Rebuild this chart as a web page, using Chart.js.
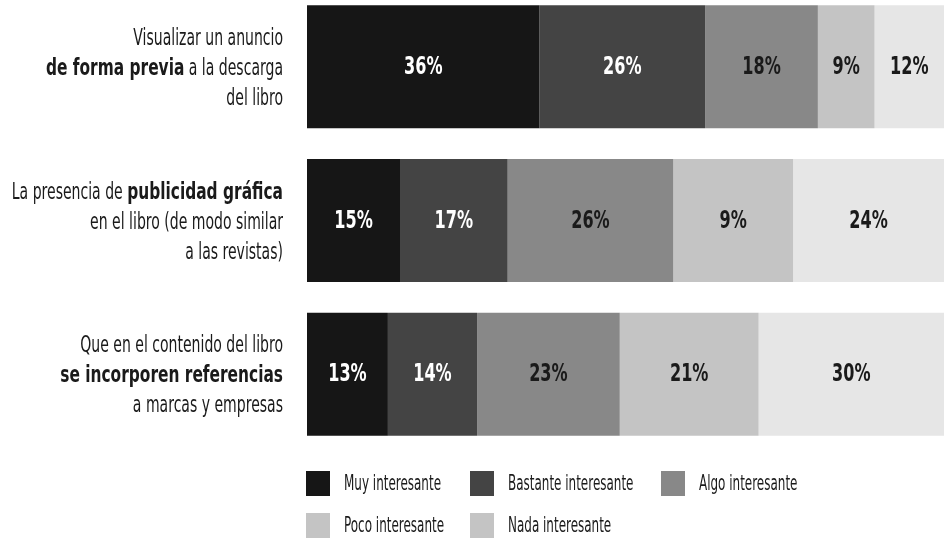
<!DOCTYPE html>
<html>
<head>
<meta charset="utf-8">
<script src="https://cdn.jsdelivr.net/npm/chart.js@4"></script>
<style>
  body { margin: 0; background: #fff; width: 944px; height: 539px; overflow: hidden; position: relative; }
  #wrap { position: absolute; left: 0; top: -10px; width: 944px; height: 549px; }
  #leyenda { position: absolute; left: 306px; top: 471px; }
  .item { position: absolute; white-space: nowrap; color: #1a1a1a;
          font-family: 'DejaVu Sans', sans-serif; font-size: 21px; }
  .caja { position: absolute; left: 0; top: 0; width: 24px; height: 25px; }
  .texto { position: absolute; left: 38px; top: 0; line-height: 25px;
           transform: scaleX(0.57); transform-origin: left center; }
</style>
</head>
<body>
<div id="wrap"><canvas id="grafico"></canvas></div>
<div id="leyenda"></div>
<script>
// categorias (las partes entre * van en negrita)
const categorias = [
  ["Visualizar un anuncio", "*de forma previa* a la descarga", "del libro"],
  ["La presencia de *publicidad gráfica*", "en el libro (de modo similar", "a las revistas)"],
  ["Que en el contenido del libro", "*se incorporen referencias*", "a marcas y empresas"]
];
const series = ["Muy interesante", "Bastante interesante", "Algo interesante", "Poco interesante", "Nada interesante"];

// anchos de cada tramo (%)
const muy      = [36.5, 14.6, 12.7];
const bastante = [26.0, 16.9, 14.0];
const algo     = [17.7, 26.0, 22.4];
const poco     = [8.9, 18.8, 21.8];
const nada     = [10.9, 23.7, 29.1];

// porcentajes impresos en las barras
const etiquetasMuy      = ["36%", "15%", "13%"];
const etiquetasBastante = ["26%", "17%", "14%"];
const etiquetasAlgo     = ["18%", "26%", "23%"];
const etiquetasPoco     = ["9%", "9%", "21%"];
const etiquetasNada     = ["12%", "24%", "30%"];

const colores = ["#161616", "#444444", "#888888", "#c4c4c4", "#e6e6e6"];
const coloresLeyenda = ["#161616", "#444444", "#888888", "#c4c4c4", "#c4c4c4"];
const coloresTexto = ["#ffffff", "#ffffff", "#1a1a1a", "#1a1a1a", "#1a1a1a"];
const FUENTE = "'DejaVu Sans', sans-serif";
// la fuente original es condensada: se estrecha a mano
const ESTRECHO_NORMAL = 0.61;
const ESTRECHO_NEGRITA = 0.67;

const valores = [muy, bastante, algo, poco, nada];
const etiquetas = [etiquetasMuy, etiquetasBastante, etiquetasAlgo, etiquetasPoco, etiquetasNada];

// textos dentro de las barras
const porcentajes = {
  id: "porcentajes",
  afterDatasetsDraw(chart) {
    const ctx = chart.ctx;
    ctx.font = "bold 24px " + FUENTE;
    ctx.textAlign = "center";
    ctx.textBaseline = "middle";
    chart.data.datasets.forEach((ds, i) => {
      chart.getDatasetMeta(i).data.forEach((bar, j) => {
        const p = bar.getProps(["x", "y", "base"], true);
        ctx.save();
        ctx.fillStyle = coloresTexto[i];
        ctx.translate((p.x + p.base) / 2, p.y + 1);
        ctx.scale(ESTRECHO_NEGRITA, 1);
        ctx.fillText(etiquetas[i][j], 0, 0);
        ctx.restore();
      });
    });
  }
};

// etiquetas de la izquierda con partes en negrita
const rotulos = {
  id: "rotulos",
  afterDraw(chart) {
    const ctx = chart.ctx;
    const y = chart.scales.y;
    ctx.save();
    ctx.fillStyle = "#1a1a1a";
    ctx.textBaseline = "alphabetic";
    ctx.textAlign = "left";
    categorias.forEach((lineas, j) => {
      const cy = y.getPixelForValue(j);
      lineas.forEach((linea, k) => {
        const trozos = linea.split("*").map((t, n) => ({
          t: t,
          font: (n % 2 ? "bold " : "") + "23px " + FUENTE,
          k: n % 2 ? ESTRECHO_NEGRITA : ESTRECHO_NORMAL
        }));
        let ancho = 0;
        trozos.forEach(tr => {
          ctx.font = tr.font;
          tr.w = ctx.measureText(tr.t).width * tr.k;
          ancho += tr.w;
        });
        const base = cy + 8 + (k - 1) * 30;
        let x = 283 - ancho;
        trozos.forEach(tr => {
          ctx.save();
          ctx.font = tr.font;
          ctx.translate(x, base);
          ctx.scale(tr.k, 1);
          ctx.fillText(tr.t, 0, 0);
          ctx.restore();
          x += tr.w;
        });
      });
    });
    ctx.restore();
  }
};

const chart = new Chart(document.getElementById("grafico"), {
  type: "bar",
  data: {
    labels: categorias.map(c => c.join(" ").replace(/\*/g, "")),
    datasets: series.map((s, i) => ({
      label: s,
      data: valores[i],
      backgroundColor: colores[i],
      borderWidth: 0,
      categoryPercentage: 1,
      barPercentage: 0.8
    }))
  },
  options: {
    indexAxis: "y",
    responsive: true,
    maintainAspectRatio: false,
    animation: false,
    layout: { padding: { left: 307, right: 0, top: 0, bottom: 88 } },
    scales: {
      x: { stacked: true, min: 0, max: 100, display: false },
      y: { stacked: true, display: false }
    },
    plugins: {
      legend: { display: false },
      tooltip: { enabled: false }
    }
  },
  plugins: [porcentajes, rotulos]
});

// leyenda en rejilla de tres columnas
const columnas = [0, 164, 355];
const leyenda = document.getElementById("leyenda");
series.forEach((s, i) => {
  const d = document.createElement("div");
  d.className = "item";
  d.style.left = columnas[i % 3] + "px";
  d.style.top = Math.floor(i / 3) * 42 + "px";
  d.innerHTML = '<div class="caja" style="background:' + coloresLeyenda[i] + '"></div><div class="texto">' + s + "</div>";
  leyenda.appendChild(d);
});
</script>
</body>
</html>
